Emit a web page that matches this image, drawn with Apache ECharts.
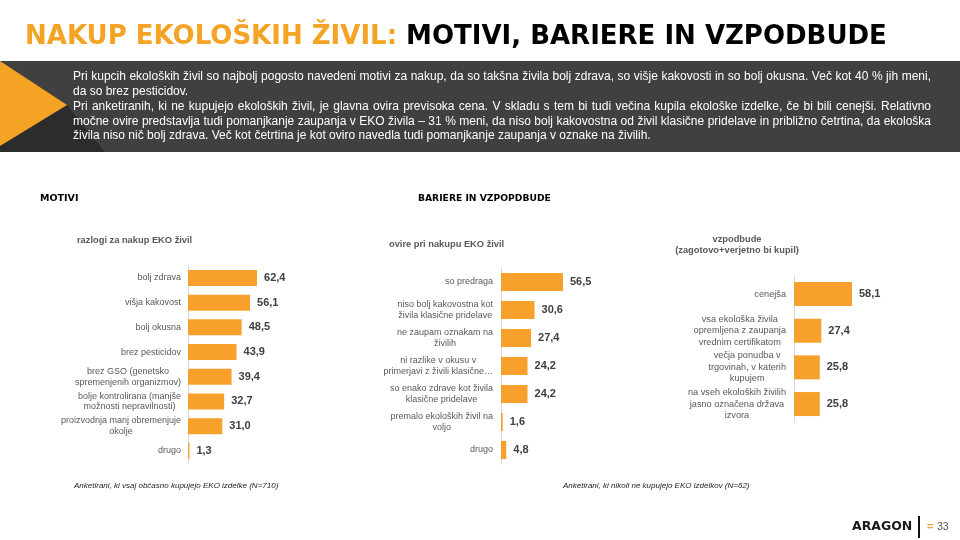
<!DOCTYPE html>
<html><head><meta charset="utf-8">
<script src="https://cdn.jsdelivr.net/npm/echarts@6/dist/echarts.min.js"></script>
<style>html,body{margin:0;padding:0;background:#fff}#c{width:960px;height:540px}</style>
</head><body><div id="c"></div>
<script>
const motiviCats = ['bolj zdrava','višja kakovost','bolj okusna','brez pesticidov','brez GSO (genetsko\nspremenjenih organizmov)','bolje kontrolirana (manjše\nmožnosti nepravilnosti)','proizvodnja manj obremenjuje\nokolje','drugo'];
const motiviVals = [62.4,56.1,48.5,43.9,39.4,32.7,31.0,1.3];
const ovireCats = ['so predraga','niso bolj kakovostna kot\nživila klasične pridelave','ne zaupam oznakam na\nživilih','ni razlike v okusu v\nprimerjavi z živili klasične…','so enako zdrave kot živila\nklasične pridelave','premalo ekoloških živil na\nvoljo','drugo'];
const ovireVals = [56.5,30.6,27.4,24.2,24.2,1.6,4.8];
const vzpCats = ['cenejša','vsa ekološka živila\nopremljena z zaupanja\nvrednim certifikatom','večja ponudba v\ntrgovinah, v katerih\nkupujem','na vseh ekoloških živilih\njasno označena država\nizvora'];
const vzpVals = [58.1,27.4,25.8,25.8];

const BAR = '#F7A12C';
const ORANGE = '#F4A324';
const LBL = '#595959';
const FONT = 'Liberation Sans';

const bandLines = [
 'Pri kupcih ekoloških živil so najbolj pogosto navedeni motivi za nakup, da so takšna živila bolj zdrava, so višje kakovosti in so bolj okusna. Več kot 40 % jih meni,',
 'da so brez pesticidov.',
 'Pri anketiranih, ki ne kupujejo ekoloških živil, je glavna ovira previsoka cena. V skladu s tem bi tudi večina kupila ekološke izdelke, če bi bili cenejši. Relativno',
 'močne ovire predstavlja tudi pomanjkanje zaupanja v EKO živila – 31 % meni, da niso bolj kakovostna od živil klasične pridelave in približno četrtina, da ekološka',
 'živila niso nič bolj zdrava. Več kot četrtina je kot oviro navedla tudi pomanjkanje zaupanja v oznake na živilih.'
];
const bandJustify = [true, false, true, true, false];

const chart = echarts.init(document.getElementById('c'));
function fmtVal(p){ return p.value.toFixed(1).replace('.', ','); }
function catLabel(fs, lh){
  return {
    color: LBL, fontFamily: FONT, fontSize: fs, lineHeight: lh, align: 'right',
    formatter: v => v.split('\n').map(l => '{c|' + l + '}').join('\n'),
    rich: { c: { align: 'center', color: LBL, fontFamily: FONT, fontSize: fs, lineHeight: lh } }
  };
}
function yAx(idx, cats, fs, lh, margin){
  const al = catLabel(fs, lh); al.margin = margin;
  return { type:'category', gridIndex: idx, data: cats, inverse: true,
    axisLine:{ show:true, lineStyle:{ color:'#d9d9d9', width:1 } },
    axisTick:{ show:false }, axisLabel: al };
}
function xAx(idx, max){ return { type:'value', gridIndex: idx, min:0, max:max, show:false }; }
function ser(idx, vals, bw){
  return { type:'bar', xAxisIndex: idx, yAxisIndex: idx, data: vals, barWidth: bw,
    itemStyle:{ color: BAR }, animation:false,
    label:{ show:true, position:'right', distance:7, formatter: fmtVal,
      color:'#404040', fontFamily: FONT, fontWeight:'bold', fontSize: 11 } };
}

const graphics = [
  { type:'rect', shape:{ x:0, y:61, width:960, height:91 }, style:{ fill:'#404040' } },
  { type:'polygon', shape:{ points:[[0,145],[67,105],[105,152],[0,152]] }, style:{ fill:'#2c2c2c' } },
  { type:'polygon', shape:{ points:[[0,61],[67,105],[0,146]] }, style:{ fill:ORANGE } },
  { type:'text', x:25, y:37, style:{
      text:'{o|NAKUP EKOLOŠKIH ŽIVIL: }{b|MOTIVI, BARIERE IN VZPODBUDE}', verticalAlign:'middle',
      rich:{ o:{ fill:ORANGE, fontFamily:'DejaVu Sans', fontWeight:'bold', fontSize:26 },
             b:{ fill:'#000', fontFamily:'DejaVu Sans', fontWeight:'bold', fontSize:26 } } } },
  { type:'text', x:40, y:199, style:{ text:'MOTIVI', fill:'#000', fontFamily:'DejaVu Sans', fontWeight:'bold', fontSize:9.5, verticalAlign:'middle' } },
  { type:'text', x:418, y:199, style:{ text:'BARIERE IN VZPOPDBUDE', fill:'#000', fontFamily:'DejaVu Sans', fontWeight:'bold', fontSize:9.2, verticalAlign:'middle' } },
  { type:'text', x:77, y:240, style:{ text:'razlogi za nakup EKO živil', fill:LBL, fontFamily:FONT, fontWeight:'bold', fontSize:9.3, verticalAlign:'middle' } },
  { type:'text', x:389, y:244, style:{ text:'ovire pri nakupu EKO živil', fill:LBL, fontFamily:FONT, fontWeight:'bold', fontSize:9.3, verticalAlign:'middle' } },
  { type:'text', x:737, y:244.5, style:{ text:'vzpodbude\n(zagotovo+verjetno bi kupil)', fill:LBL, fontFamily:FONT, fontWeight:'bold', fontSize:9.3, lineHeight:11, align:'center', verticalAlign:'middle' } },
  { type:'text', x:74, y:486, style:{ text:'Anketirani, ki vsaj občasno kupujejo EKO izdelke (N=710)', fill:'#222', fontFamily:FONT, fontStyle:'italic', fontSize:8, verticalAlign:'middle' } },
  { type:'text', x:563, y:486, style:{ text:'Anketirani, ki nikoli ne kupujejo EKO izdelkov (N=62)', fill:'#222', fontFamily:FONT, fontStyle:'italic', fontSize:8, verticalAlign:'middle' } },
  { type:'text', x:852, y:527, style:{ text:'ARAGON', fill:'#1a1a1a', fontFamily:'DejaVu Sans', fontWeight:'bold', fontSize:12.5, verticalAlign:'middle' } },
  { type:'rect', shape:{ x:918, y:516, width:2, height:22 }, style:{ fill:'#111' } },
  { type:'text', x:927, y:527, style:{ text:'=', fill:ORANGE, fontFamily:FONT, fontWeight:'bold', fontSize:11, verticalAlign:'middle' } },
  { type:'text', x:937, y:527, style:{ text:'33', fill:'#555', fontFamily:FONT, fontSize:10.5, verticalAlign:'middle' } }
];

// band paragraph, justified lines placed word by word
const BAND_FS = 12, BAND_L = 73, BAND_R = 931;
const bandY = [77, 92, 107, 121.5, 135.5];
const mctx = document.createElement('canvas').getContext('2d');
mctx.font = BAND_FS + 'px "' + FONT + '"';
bandLines.forEach((t,i) => {
  if (!bandJustify[i]) {
    graphics.push({ type:'text', x:BAND_L, y:bandY[i], style:{ text:t, fill:'#fff', fontFamily:FONT, fontSize:BAND_FS, verticalAlign:'middle' } });
    return;
  }
  const words = t.split(' ');
  const ws = words.map(w => mctx.measureText(w).width);
  const sum = ws.reduce((a,b)=>a+b,0);
  const gap = (BAND_R - BAND_L - sum) / (words.length - 1);
  let x = BAND_L;
  words.forEach((w,k) => {
    graphics.push({ type:'text', x:x, y:bandY[i], style:{ text:w, fill:'#fff', fontFamily:FONT, fontSize:BAND_FS, verticalAlign:'middle' } });
    x += ws[k] + gap;
  });
});

chart.setOption({
  animation:false,
  grid:[
    { left:188, top:265.6, width:110.6, height:197.6 },
    { left:501, top:268, width:109.7, height:196 },
    { left:794, top:275.7, width:99.8, height:146.7 }
  ],
  xAxis:[ xAx(0,100), xAx(1,100), xAx(2,100) ],
  yAxis:[ yAx(0, motiviCats, 9, 10.7, 7), yAx(1, ovireCats, 9, 10.7, 8), yAx(2, vzpCats, 9.2, 11.5, 8) ],
  series:[ ser(0, motiviVals, 16), ser(1, ovireVals, 18), ser(2, vzpVals, 24) ],
  graphic: graphics
});
</script></body></html>
